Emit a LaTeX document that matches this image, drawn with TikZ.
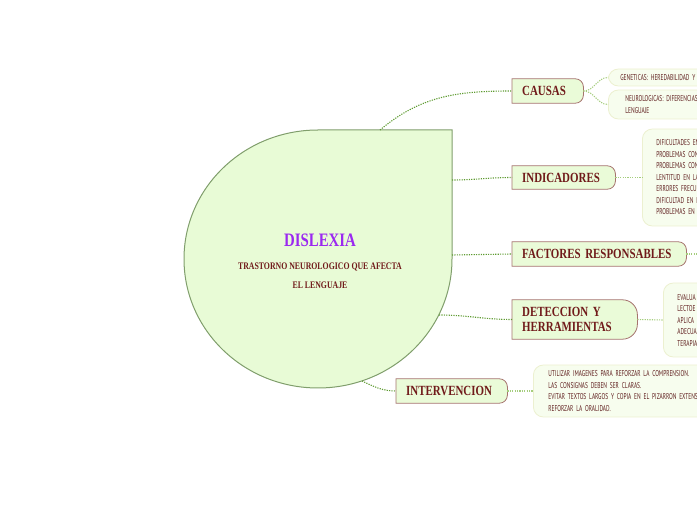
\documentclass[tikz,border=0pt]{standalone}
\usepackage{fontspec}
\usepackage{tikz}
\usetikzlibrary{positioning,backgrounds}

\newfontfamily\headfont[FakeStretch=0.78]{Liberation Serif}
\newfontfamily\leaffont[FakeStretch=0.64]{PT Sans}

\definecolor{dropfill}{RGB}{232,251,214}
\definecolor{dropline}{RGB}{128,158,108}
\definecolor{topicfill}{RGB}{234,251,216}
\definecolor{topicline}{RGB}{165,115,110}
\definecolor{leaffill}{RGB}{247,253,238}
\definecolor{leafline}{RGB}{236,240,208}
\definecolor{headred}{RGB}{112,26,26}
\definecolor{leafred}{RGB}{95,30,30}
\definecolor{titlepurple}{RGB}{155,40,240}
\definecolor{linkgreen}{RGB}{95,155,50}
\definecolor{sublinkgreen}{RGB}{165,205,125}

\tikzset{
  topic/.style={anchor=west, inner xsep=10pt, inner ysep=0pt, align=left, text=headred,
    font=\headfont\bfseries\fontsize{14}{15}\selectfont},
  topicshape/.style={draw=topicline, fill=topicfill, line width=0.8pt},
  leaf/.style={anchor=west, draw=leafline, fill=leaffill, line width=0.8pt, rounded corners=10pt,
    align=left, text width=220pt, inner xsep=14pt, text=leafred,
    font=\leaffont\fontsize{8.5}{11.5}\selectfont},
  link/.style={draw=linkgreen, line width=1.1pt, dash pattern=on 1.2pt off 1.2pt},
  sublink/.style={draw=sublinkgreen, line width=1.1pt, dash pattern=on 1.2pt off 1.2pt},
}

% outline of a topic box: square on the left, rounded on the right
\newcommand{\topicbox}[2]{%
  \path[topicshape] (#1.south west) -- (#1.north west)
    -- ([xshift=-#2]#1.north east) arc[start angle=90, end angle=0, radius=#2]
    -- ([yshift=#2]#1.south east) arc[start angle=0, end angle=-90, radius=#2] -- cycle;}

\begin{document}
\begin{tikzpicture}[x=1pt,y=1pt]
  \useasboundingbox (0,0) rectangle (697,520);
  \clip (0,0) rectangle (697,520);

  % Central topic
  \path[draw=dropline, fill=dropfill, line width=1pt] (452,390) -- (452,261)
    arc[start angle=0, end angle=-270, x radius=134, y radius=129] -- cycle;
  \node[text=titlepurple, font=\headfont\bfseries\fontsize{19}{20}\selectfont] (title) at (320,280) {DISLEXIA};
  \node[below=13pt of title, inner sep=0pt, align=center, text=headred,
    font=\headfont\bfseries\fontsize{10}{19}\selectfont] (subtitle) {TRASTORNO NEUROLOGICO QUE AFECTA\\EL LENGUAJE};

  \coordinate (dtop) at (380,390);
  \coordinate (dind) at (452,340);
  \coordinate (dfac) at (452,265);
  \coordinate (ddet) at (439,205);
  \coordinate (dint) at (362,139);
  \coordinate (facout) at (697,266);

  % Main topics
  \node[topic, text width=51pt, minimum height=24pt] (causas) at (512,429) {CAUSAS};
  \node[topic, text width=83pt, minimum height=23pt] (indicadores) at (512,342.5) {INDICADORES};
  \node[topic, text width=154pt, minimum height=24pt] (factores) at (512,266) {FACTORES RESPONSABLES};
  \node[topic, text width=105pt, minimum height=39pt] (deteccion) at (512,200.5) {DETECCION Y\\HERRAMIENTAS};
  \node[topic, text width=91pt, minimum height=24pt] (intervencion) at (396,129) {INTERVENCION};

  % Subtopics
  \node[leaf, minimum height=17pt, inner xsep=12pt] (genetica) at (608,442.5) {GENETICAS: HEREDABILIDAD Y};
  \node[leaf, minimum height=29pt, inner xsep=17pt] (neuro) at (608,415.5) {NEUROLOGICAS: DIFERENCIAS\\LENGUAJE};
  \node[leaf, minimum height=97pt] (sintomas) at (642,342.5)
    {DIFICULTADES EN\\PROBLEMAS CON\\PROBLEMAS CON\\LENTITUD EN LA\\ERRORES FRECU\\DIFICULTAD EN L\\PROBLEMAS EN};
  \node[leaf, minimum height=74pt] (pruebas) at (663,200)
    {EVALUA\\LECTOE\\APLICA\\ADECUA\\TERAPIA};
  \node[leaf, minimum height=52pt, inner xsep=15pt] (estrategias) at (533,129)
    {UTILIZAR IMAGENES PARA REFORZAR LA COMPRENSION.\\LAS CONSIGNAS DEBEN SER CLARAS.\\EVITAR TEXTOS LARGOS Y COPIA EN EL PIZARRON EXTENSA.\\REFORZAR LA ORALIDAD.};

  \begin{scope}[on background layer]
    \topicbox{causas}{8pt}
    \topicbox{indicadores}{8pt}
    \topicbox{factores}{8pt}
    \topicbox{deteccion}{15pt}
    \topicbox{intervencion}{8pt}
  \end{scope}

  % Edges
  \draw[link] (dtop) to[out=40,in=180] (causas.west);
  \draw[link] (dind) to[out=0,in=180] (indicadores.west);
  \draw[link] (dfac) -- (factores.west);
  \draw[link] (ddet) to[out=0,in=180] (deteccion.west);
  \draw[link] (dint) to[out=-25,in=180] (intervencion.west);

  \draw[sublink] (causas.east) to[out=0,in=180] (genetica.west);
  \draw[sublink] (causas.east) to[out=0,in=180] (neuro.west);
  \draw[sublink] (indicadores.east) -- (sintomas.west);
  \draw[sublink] (factores.east) -- (facout);
  \draw[sublink] (deteccion.east) -- (pruebas.west);
  \draw[sublink] (intervencion.east) -- (estrategias.west);
\end{tikzpicture}
\end{document}
